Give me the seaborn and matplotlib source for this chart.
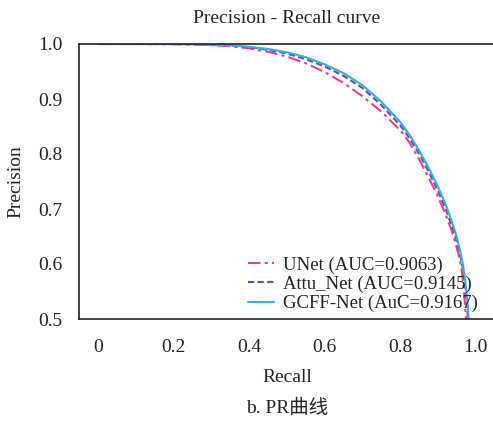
import numpy as np
import pandas as pd
import matplotlib
matplotlib.use("Agg")
import matplotlib.pyplot as plt
import seaborn as sns

# ---- data ----
recall_gcff = [0.0, 0.1, 0.2, 0.25, 0.3, 0.35, 0.4, 0.45, 0.5, 0.55, 0.6, 0.65, 0.7,
               0.75, 0.8, 0.825, 0.85, 0.875, 0.9, 0.92, 0.935, 0.948, 0.958, 0.966,
               0.972, 0.977, 0.981, 0.985]
prec_gcff = [1.0, 1.0, 1.0, 0.9995, 0.999, 0.9975, 0.995, 0.991, 0.985, 0.976, 0.963,
             0.947, 0.925, 0.895, 0.858, 0.834, 0.806, 0.775, 0.740, 0.708, 0.680,
             0.652, 0.625, 0.598, 0.568, 0.535, 0.500, 0.450]

recall_attu = [0.0, 0.1, 0.2, 0.25, 0.3, 0.35, 0.4, 0.45, 0.5, 0.55, 0.6, 0.65, 0.7,
               0.75, 0.8, 0.825, 0.85, 0.875, 0.9, 0.92, 0.935, 0.948, 0.958, 0.966,
               0.971, 0.976, 0.979, 0.983]
prec_attu = [1.0, 1.0, 1.0, 0.9995, 0.9985, 0.997, 0.994, 0.9895, 0.9825, 0.9725, 0.959,
             0.942, 0.920, 0.889, 0.852, 0.828, 0.800, 0.768, 0.732, 0.700, 0.672,
             0.645, 0.618, 0.590, 0.562, 0.527, 0.500, 0.450]

recall_unet = [0.0, 0.1, 0.2, 0.25, 0.3, 0.35, 0.4, 0.45, 0.5, 0.55, 0.6, 0.65, 0.7,
               0.75, 0.8, 0.825, 0.85, 0.875, 0.9, 0.92, 0.935, 0.945, 0.955, 0.962,
               0.968, 0.974, 0.979]
prec_unet = [1.0, 1.0, 0.9995, 0.999, 0.998, 0.996, 0.992, 0.986, 0.977, 0.965, 0.949,
             0.929, 0.905, 0.877, 0.843, 0.820, 0.790, 0.757, 0.722, 0.690, 0.662,
             0.640, 0.615, 0.590, 0.555, 0.500, 0.450]

labels = ["UNet (AUC=0.9063)", "Attu_Net (AUC=0.9145)", "GCFF-Net (AuC=0.9167)"]
x_ticks = [0, 0.2, 0.4, 0.6, 0.8, 1.0]
x_ticklabels = ["0", "0.2", "0.4", "0.6", "0.8", "1.0"]
y_ticks = [0.5, 0.6, 0.7, 0.8, 0.9, 1.0]

sns.set_style("white")
plt.rcParams["font.family"] = ["Liberation Serif", "Noto Sans CJK SC"]

FS = 14
W, H = 493, 421
fig = plt.figure(figsize=(W / 100, H / 100), dpi=100)
left, right, top, bottom = 79, 494.8, 44, 319
ax = fig.add_axes([left / W, (H - bottom) / H, (right - left) / W, (bottom - top) / H])

series = [
    (recall_unet, prec_unet, labels[0], "#e8408a", (0, (6, 2, 1.5, 2))),
    (recall_attu, prec_attu, labels[1], "#6a4aa5", (0, (3, 1.6))),
    (recall_gcff, prec_gcff, labels[2], "#35aee0", "-"),
]
for rx, py, lab, col, ls in series:
    df = pd.DataFrame({"Recall": rx, "Precision": py})
    sns.lineplot(data=df, x="Recall", y="Precision", ax=ax, color=col,
                 linestyle=ls, linewidth=1.5, label=lab, sort=False, estimator=None)

ax.set_xlim(-0.05, 1.05)
ax.set_ylim(0.5, 1.0)
ax.set_xticks(x_ticks)
ax.set_xticklabels(x_ticklabels)
ax.set_yticks(y_ticks)
ax.set_yticklabels([f"{v:.1f}" for v in y_ticks])
ax.tick_params(axis="both", direction="in", length=3.6, width=1, labelsize=FS,
               colors="#222222", labelcolor="#222222")
ax.tick_params(axis="x", pad=14.5)
ax.tick_params(axis="y", pad=12)
for s in ["left", "top", "bottom"]:
    ax.spines[s].set_color("#222222")
    ax.spines[s].set_linewidth(1.2)
ax.spines["right"].set_visible(False)

ax.set_xlabel("Recall", fontsize=FS, labelpad=9, color="#222222")
ax.set_ylabel("Precision", fontsize=FS, labelpad=10, color="#222222")
ax.set_title("Precision - Recall curve", fontsize=FS, pad=15, color="#222222")

leg = ax.legend(loc="lower right", bbox_to_anchor=(0.9596, 0.025), frameon=False,
                fontsize=13.5, handlelength=1.4, handletextpad=0.5,
                labelspacing=0.1, borderpad=0.0, borderaxespad=0.0)
for t in leg.get_texts():
    t.set_color("#222222")

fig.text(287 / W, 1 - 408 / H, "b. PR曲线", ha="center", va="center", fontsize=FS,
         family=["Liberation Serif", "Noto Sans CJK SC"], color="#222222")

fig.savefig("out.png", dpi=100)
